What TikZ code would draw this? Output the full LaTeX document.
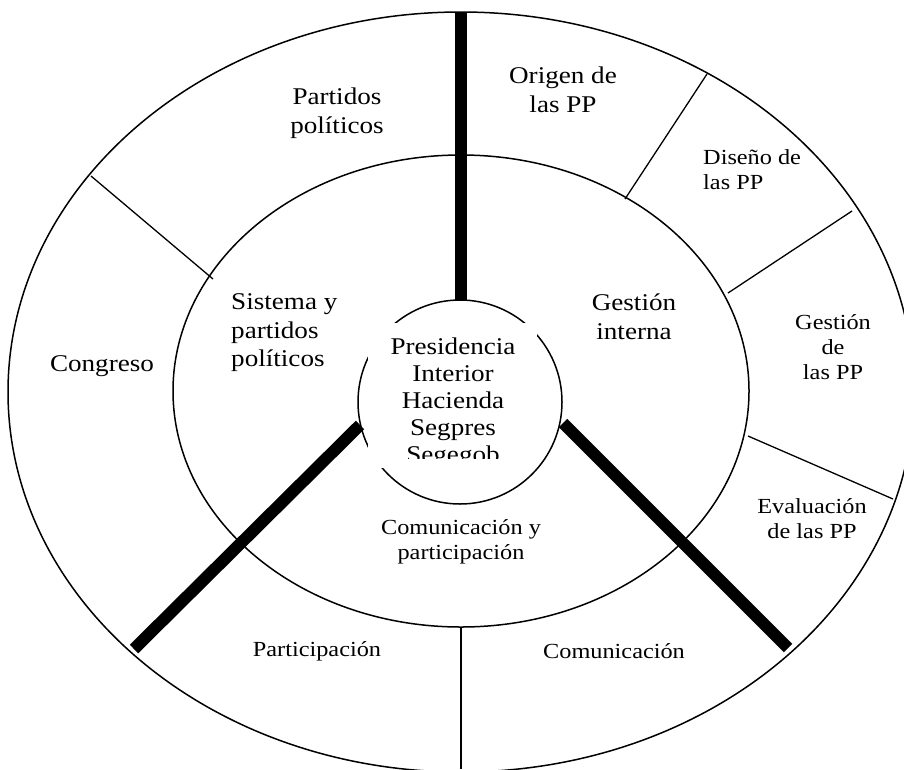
\documentclass[tikz,border=0pt]{standalone}
\usepackage{fontspec}
\setmainfont{Liberation Serif}[FakeStretch=1.13]
\begin{document}
\tikzset{
  ring/.style={line width=1.5pt},
  divider/.style={line width=1.3pt},
  spoke/.style={line width=12pt},
  bigtext/.style={font=\fontsize{24}{28.5}\selectfont, align=center, inner sep=0pt},
  smalltext/.style={font=\fontsize{21.5}{25}\selectfont, align=center, inner sep=0pt},
  innertext/.style={font=\fontsize{24}{27}\selectfont, align=center, inner sep=0pt},
}
\begin{tikzpicture}[x=1pt,y=-1pt]
\useasboundingbox (0,0) rectangle (904,769);
\clip (0,0) rectangle (904,769);
% rings
\draw[ring] (461,392) ellipse [x radius=453pt, y radius=380pt];
\draw[ring] (461,391) ellipse [x radius=288pt, y radius=236pt];
\draw[ring] (460,402) circle [radius=102pt];
\fill[white] (368,323) rectangle (537,468);
% divider end points
\coordinate (d1a) at (91,176);  \coordinate (d1b) at (213,279);
\coordinate (d2a) at (707,74);  \coordinate (d2b) at (625,199);
\coordinate (d3a) at (852,211); \coordinate (d3b) at (728,293);
\coordinate (d4a) at (893,499); \coordinate (d4b) at (748,436);
\coordinate (d5a) at (461,628); \coordinate (d5b) at (461,769);
\draw[divider] (d1a) -- (d1b);
\draw[divider] (d2a) -- (d2b);
\draw[divider] (d3a) -- (d3b);
\draw[divider] (d4a) -- (d4b);
\draw[divider] (d5a) -- (d5b);
% thick spokes
\coordinate (t1a) at (461,12);  \coordinate (t1b) at (461,300);
\coordinate (t2a) at (134,649); \coordinate (t2b) at (360,425);
\coordinate (t3a) at (788,648); \coordinate (t3b) at (563,423);
\draw[spoke] (t1a) -- (t1b);
\draw[spoke] (t2a) -- (t2b);
\draw[spoke] (t3a) -- (t3b);
% outer ring labels
\node[bigtext] (partidos) at (337,113) {Partidos\\políticos};
\node[bigtext] (origen) at (563,90) {Origen de\\las PP};
\node[smalltext, align=left, anchor=west] (diseno) at (703,170) {Diseño de\\las PP};
\node[smalltext] (gestionpp) at (833,347) {Gestión\\de\\las PP};
\node[smalltext] (evaluacion) at (812,519) {Evaluación\\de las PP};
\node[bigtext] (congreso) at (102,366) {Congreso};
\node[smalltext] (participacion) at (317,651) {Participación};
\node[smalltext] (comunicacion) at (614,651) {Comunicación};
% middle ring labels
\node[bigtext, align=left, anchor=west] (sistema) at (231,333) {Sistema y\\partidos\\políticos};
\node[bigtext] (gestion) at (634,317) {Gestión\\interna};
\node[smalltext] (comypar) at (461,542) {Comunicación y\\participación};
% centre
\begin{scope}
\clip (360,320) rectangle (545,458);
\node[innertext] (centro) at (453,403) {Presidencia\\Interior\\Hacienda\\Segpres\\Segegob};
\end{scope}
\end{tikzpicture}
\end{document}
